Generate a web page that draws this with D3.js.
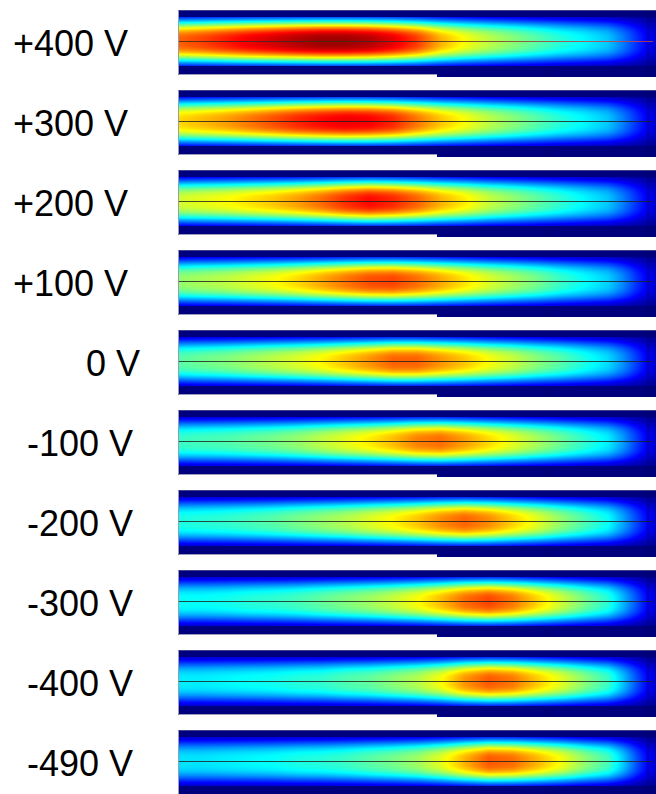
<!DOCTYPE html>
<html>
<head>
<meta charset="utf-8">
<script src="https://cdn.jsdelivr.net/npm/d3@7"></script>
<style>
  html, body { margin: 0; padding: 0; background: #fff; }
  svg { display: block; }
  text { font-family: "Liberation Sans", Arial, sans-serif; }
</style>
</head>
<body>
<svg id="chart" width="656" height="794"></svg>
<script>
// Bias voltages, one intensity map per voltage
const voltageLabels = ["+400 V", "+300 V", "+200 V", "+100 V", "0 V",
                       "-100 V", "-200 V", "-300 V", "-400 V", "-490 V"];

// Positions along the device (fraction of its length) where the on-axis
// normalised intensity was sampled
const axisPositions = [0, .05, .10, .15, .20, .25, .30, .35, .40, .45, .50, .55,
                       .60, .65, .70, .75, .80, .85, .90, .93, .96, .98, 1];

// On-axis normalised intensity for each bias
const axisP400 = [.78, .81, .85, .89, .92, .95, .97, .97, .95, .90, .82, .70,
                  .62, .56, .51, .46, .41, .37, .32, .25, .17, .12, .08];
const axisP300 = [.66, .69, .72, .76, .80, .84, .87, .89, .88, .84, .76, .68,
                  .62, .56, .51, .46, .41, .37, .32, .25, .17, .12, .08];
const axisP200 = [.58, .60, .62, .65, .68, .72, .77, .83, .87, .84, .78, .70,
                  .64, .57, .52, .47, .42, .37, .32, .25, .17, .12, .08];
const axisP100 = [.52, .54, .56, .59, .62, .66, .71, .76, .80, .81, .77, .71,
                  .65, .59, .54, .49, .43, .38, .33, .26, .17, .12, .08];
const axisZero = [.46, .48, .50, .53, .56, .59, .63, .68, .73, .78, .78, .73,
                  .68, .62, .57, .51, .46, .40, .34, .27, .18, .12, .08];
const axisN100 = [.43, .44, .45, .47, .49, .52, .56, .60, .64, .69, .75, .77,
                  .72, .66, .60, .54, .48, .42, .36, .28, .18, .12, .08];
const axisN200 = [.40, .41, .42, .44, .46, .49, .52, .55, .59, .63, .68, .74,
                  .78, .74, .67, .60, .52, .45, .38, .29, .19, .13, .08];
const axisN300 = [.38, .38, .39, .41, .42, .44, .47, .50, .53, .57, .62, .69,
                  .77, .81, .76, .67, .58, .49, .41, .31, .20, .13, .08];
const axisN400 = [.36, .36, .37, .38, .39, .41, .42, .45, .47, .51, .55, .62,
                  .73, .79, .76, .68, .60, .51, .43, .32, .20, .13, .08];
const axisN490 = [.35, .35, .36, .37, .38, .40, .41, .43, .46, .49, .53, .60,
                  .70, .79, .77, .70, .62, .52, .44, .33, .20, .13, .08];

const axisProfiles = [axisP400, axisP300, axisP200, axisP100, axisZero,
                      axisN100, axisN200, axisN300, axisN400, axisN490];

// Jet colour map stops
const jetStops  = [0, 0.125, 0.375, 0.625, 0.875, 1];
const jetColors = ["#00007f", "#0000ff", "#00ffff", "#ffff00", "#ff0000", "#7f0000"];

// ---- layout ----
const panelLeft = 178, panelRight = 656;
const panelW = panelRight - panelLeft;
const panelH = 65;          // height of the left (substrate) part
const panelHRight = 67;     // right part extends slightly lower
const stepX = 437;          // x where the lower edge steps down
const firstTop = 10, pitch = 80;
const coreHalf = 25;        // half-height of the guiding region
const modeWidth = 21;       // 1/e half-width of the transverse mode
const modeOrder = 3;        // flatness of the transverse mode
const centreOff = 31.5;     // axis position inside a panel

const labelEnd = { "0 V": 140 };
function labelX(l) {
  if (labelEnd[l] !== undefined) return labelEnd[l];
  return l.startsWith("+") ? 128 : 133;
}

const svg = d3.select("#chart");
const defs = svg.append("defs");

const colour = d3.scaleLinear().domain(jetStops).range(jetColors)
  .interpolate(d3.interpolateRgb).clamp(true);

const yPanel = d3.scaleBand().domain(voltageLabels)
  .range([firstTop, firstTop + pitch * voltageLabels.length]).paddingInner(0);

const xPix = d3.scaleLinear().domain([0, 1]).range([0, panelW]);

// transverse mode shape: flat-topped (super-Gaussian) inside the guide
function transverse(dy) {
  if (dy >= coreHalf) return 0;
  return Math.exp(-Math.pow(dy / modeWidth, modeOrder));
}

voltageLabels.forEach((label, i) => {
  const top = yPanel(label);
  const axisScale = d3.scaleLinear().domain(axisPositions).range(axisProfiles[i]).clamp(true);

  // render intensity map into a canvas
  const cv = document.createElement("canvas");
  cv.width = panelW; cv.height = panelHRight;
  const ctx = cv.getContext("2d");
  const img = ctx.createImageData(panelW, panelHRight);
  const stepCol = stepX - panelLeft;
  for (let x = 0; x < panelW; x++) {
    const f = axisScale(xPix.invert(x + 0.5));
    for (let y = 0; y < panelHRight; y++) {
      const k = (y * panelW + x) * 4;
      if (y >= panelH && x < stepCol) { img.data[k + 3] = 0; continue; }
      const dy = Math.abs(y + 0.5 - centreOff);
      const v = f * transverse(dy);
      const c = d3.rgb(colour(v));
      img.data[k] = c.r; img.data[k + 1] = c.g; img.data[k + 2] = c.b; img.data[k + 3] = 255;
    }
  }
  ctx.putImageData(img, 0, 0);

  const g = svg.append("g").attr("transform", `translate(${panelLeft},${top})`);
  g.append("image")
    .attr("x", 0).attr("y", 0)
    .attr("width", panelW).attr("height", panelHRight)
    .attr("href", cv.toDataURL());

  // faint mesh lines near the right end
  g.append("line").attr("x1", 470).attr("x2", 470).attr("y1", 0).attr("y2", panelHRight)
    .attr("stroke", "#000050").attr("stroke-width", 1).attr("opacity", 0.6);
  g.append("line").attr("x1", 369).attr("x2", 369).attr("y1", panelH - 5).attr("y2", panelHRight)
    .attr("stroke", "#000040").attr("stroke-width", 1).attr("opacity", 0.7);

  // light border on left edge and lower edge of the left part
  g.append("path")
    .attr("d", `M0.5,0 V${panelH - 0.5} H${stepCol}`)
    .attr("fill", "none").attr("stroke", "#9a9ab8").attr("stroke-width", 1);
  g.append("line").attr("x1", 0).attr("x2", panelW).attr("y1", 0.5).attr("y2", 0.5)
    .attr("stroke", "#6a6a9a").attr("stroke-width", 1).attr("opacity", 0.6);

  // propagation axis
  let stroke = "#1c201c";
  if (i === 0) {
    const grad = defs.append("linearGradient").attr("id", "axisGrad")
      .attr("gradientUnits", "userSpaceOnUse")
      .attr("x1", 0).attr("x2", panelW).attr("y1", 0).attr("y2", 0);
    grad.append("stop").attr("offset", "0.5").attr("stop-color", "#3a2a20");
    grad.append("stop").attr("offset", "0.85").attr("stop-color", "#c83a3a");
    grad.append("stop").attr("offset", "1").attr("stop-color", "#d84040");
    stroke = "url(#axisGrad)";
  }
  g.append("line")
    .attr("x1", 1).attr("x2", 475)
    .attr("y1", centreOff).attr("y2", centreOff)
    .attr("stroke", stroke).attr("stroke-width", 1.2).attr("opacity", 0.8);

  svg.append("text")
    .attr("x", labelX(label))
    .attr("y", top + 46)
    .attr("text-anchor", "end")
    .attr("font-size", 36)
    .attr("fill", "#000")
    .text(label);
});
</script>
</body>
</html>
